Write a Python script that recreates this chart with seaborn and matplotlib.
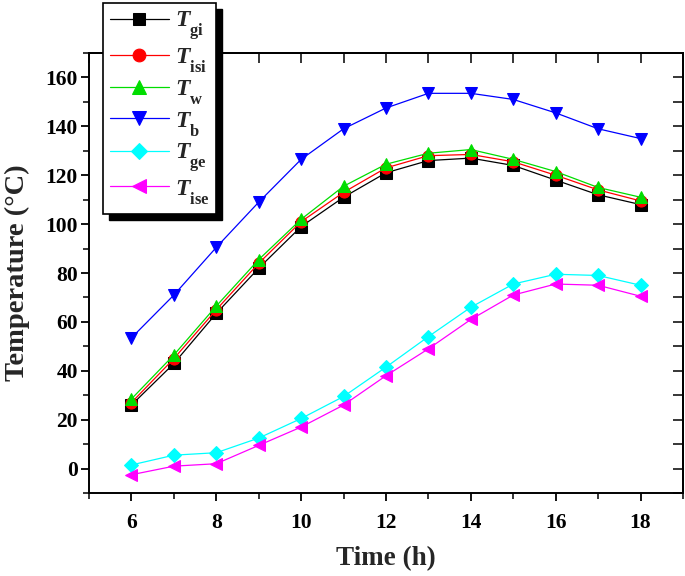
import matplotlib
matplotlib.use("Agg")
import matplotlib.pyplot as plt
import seaborn as sns
import numpy as np
from matplotlib.patches import Rectangle
from matplotlib.ticker import MultipleLocator

hours = [6, 7, 8, 9, 10, 11, 12, 13, 14, 15, 16, 17, 18]
T_gi = [26, 43, 63.5, 82, 99, 111, 121, 126, 127, 124, 118, 112, 108]
T_isi = [27, 45, 65, 84, 101, 113, 123, 128, 128.5, 125.5, 120, 114, 109.5]
T_w = [28.5, 46.5, 66.5, 85.5, 102, 115.5, 124.5, 129, 130.5, 126.5, 121.5, 115, 111]
T_b = [53.5, 71, 90.5, 109, 126.5, 139, 147.5, 153.5, 153.5, 151, 145.5, 139, 135]
T_ge = [1.5, 5.5, 6.5, 12.5, 20.5, 29.5, 41.5, 54, 66, 75.5, 79.5, 79, 75]
T_ise = [-2.5, 1, 2, 9.5, 17, 26, 38, 49, 61, 71, 75.5, 75, 70.5]

series_labels = [r"$T_{\mathbf{gi}}$", r"$T_{\mathbf{isi}}$", r"$T_{\mathbf{w}}$",
                 r"$T_{\mathbf{b}}$", r"$T_{\mathbf{ge}}$", r"$T_{\mathbf{ise}}$"]
series_values = [T_gi, T_isi, T_w, T_b, T_ge, T_ise]
colors = ["black", "red", "#00dd00", "blue", "cyan", "magenta"]
markers = ["s", "o", "^", "v", "D", "<"]
msizes = [8, 8, 9, 9, 7, 9]

try:
    import matplotlib._mathtext as _mt
    _mt.FontConstantsBase.sub1 = 0.9
    _mt.FontConstantsBase.sub2 = 0.9
    _mt.FontConstantsBase.subdrop = 0.9
except Exception:
    pass

sns.set_theme(style="white")
plt.rcParams["font.family"] = ["Liberation Serif", "DejaVu Serif"]
plt.rcParams["font.weight"] = "bold"
plt.rcParams["mathtext.fontset"] = "custom"
plt.rcParams["mathtext.it"] = "Liberation Serif:italic:bold"
plt.rcParams["mathtext.rm"] = "Liberation Serif:bold"
plt.rcParams["mathtext.bf"] = "Liberation Serif:bold"

fig = plt.figure(figsize=(6.85, 5.76), dpi=100)
ax = fig.add_axes([0.130, 0.144, 0.867, 0.764])

for lab, vals, c, m, ms in zip(series_labels, series_values, colors, markers, msizes):
    sns.lineplot(x=hours, y=vals, ax=ax, color=c, marker=m, markersize=ms,
                 markeredgecolor=c, linewidth=0.9, label=lab)

ax.set_xlim(5, 19)
ax.set_ylim(-10, 170)
ax.xaxis.set_major_locator(MultipleLocator(2))
ax.xaxis.set_minor_locator(MultipleLocator(1))
ax.yaxis.set_major_locator(MultipleLocator(20))
ax.yaxis.set_minor_locator(MultipleLocator(10))
ax.tick_params(axis="both", which="major", direction="out", length=6, width=1.3,
               labelsize=15.5, colors="black", pad=2)
ax.tick_params(axis="x", which="major", pad=8)
ax.tick_params(axis="both", which="minor", direction="out", length=4, width=1.3)
ax.tick_params(axis="both", which="both", bottom=True, left=True, top=False, right=False)
for lbl in ax.get_xticklabels() + ax.get_yticklabels():
    lbl.set_fontweight("bold")
for s in ax.spines.values():
    s.set_linewidth(1.4)
    s.set_color("black")

secx = ax.secondary_xaxis("top")
secx.set_xticks(np.arange(5, 20, 1))
secx.tick_params(direction="in", length=7, width=1.3, labeltop=False)
secx.spines["top"].set_linewidth(1.4)
secy = ax.secondary_yaxis("right")
secy.set_yticks(np.arange(-10, 171, 10))
secy.tick_params(direction="in", length=7, width=1.3, labelright=False)
secy.spines["right"].set_linewidth(1.4)

ax.set_xlabel("Time (h)", fontsize=19.5, fontweight="bold", labelpad=10)
ax.set_ylabel("Temperature (°C)", fontsize=20.5, fontweight="bold", labelpad=11)

ax.get_legend().remove()
handles, labels = ax.get_legend_handles_labels()
leg = fig.legend(handles, labels, loc="upper left", bbox_to_anchor=(0.150, 0.995),
                 borderaxespad=0, fontsize=17, frameon=True, fancybox=False,
                 edgecolor="black", facecolor="white", framealpha=1,
                 handlelength=2.5, labelspacing=0.12, borderpad=0.3, handletextpad=0.25,
                 markerscale=1.15)
leg.get_frame().set_linewidth(1.2)
leg.set_zorder(10)

fig.canvas.draw()
bb = leg.get_window_extent().transformed(fig.transFigure.inverted())
dx, dy = 6 / 685, 6 / 576
shadow = Rectangle((bb.x0 + dx, bb.y0 - dy), bb.width, bb.height, transform=fig.transFigure,
                   facecolor="black", edgecolor="black", zorder=9)
fig.patches.append(shadow)

fig.savefig("out.png", dpi=100)
